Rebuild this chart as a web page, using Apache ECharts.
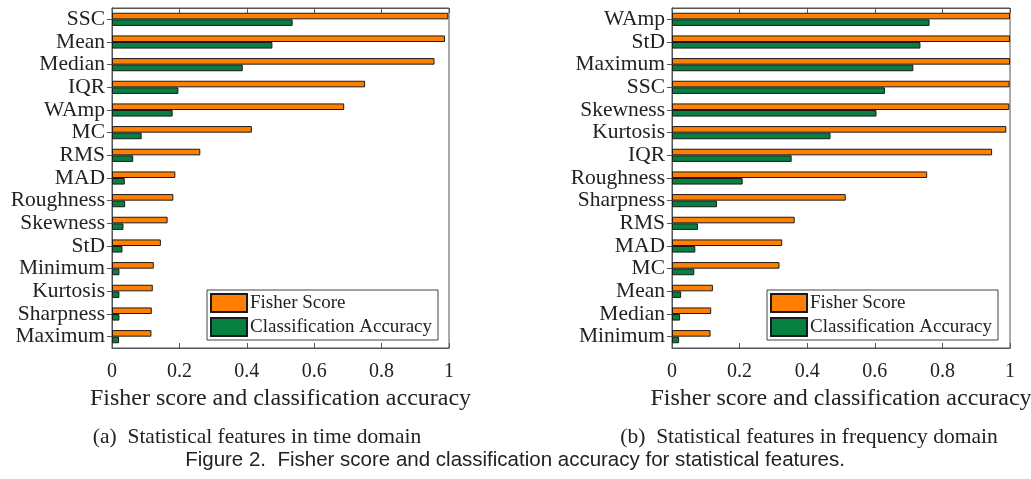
<!DOCTYPE html>
<html>
<head>
<meta charset="utf-8">
<script src="https://cdn.jsdelivr.net/npm/echarts@6/dist/echarts.min.js"></script>
<style>
  html, body { margin: 0; padding: 0; background: #fff; }
  #chart { width: 1031px; height: 479px; }
</style>
</head>
<body>
<div id="chart"></div>
<script>
// Time-domain features, ranked by Fisher score
const timeFeatures = ['SSC', 'Mean', 'Median', 'IQR', 'WAmp', 'MC', 'RMS', 'MAD', 'Roughness', 'Skewness', 'StD', 'Minimum', 'Kurtosis', 'Sharpness', 'Maximum'];
const timeFisher = [0.998, 0.988, 0.957, 0.751, 0.689, 0.415, 0.262, 0.188, 0.182, 0.165, 0.145, 0.124, 0.121, 0.118, 0.117];
const timeAccuracy = [0.536, 0.476, 0.388, 0.197, 0.180, 0.088, 0.063, 0.038, 0.039, 0.034, 0.031, 0.022, 0.022, 0.022, 0.021];

// Frequency-domain features, ranked by Fisher score
const freqFeatures = ['WAmp', 'StD', 'Maximum', 'SSC', 'Skewness', 'Kurtosis', 'IQR', 'Roughness', 'Sharpness', 'RMS', 'MAD', 'MC', 'Mean', 'Median', 'Minimum'];
const freqFisher = [1.0, 1.0, 1.0, 0.999, 0.998, 0.989, 0.947, 0.755, 0.514, 0.363, 0.326, 0.318, 0.121, 0.116, 0.114];
const freqAccuracy = [0.762, 0.735, 0.714, 0.630, 0.605, 0.469, 0.354, 0.209, 0.133, 0.077, 0.069, 0.066, 0.027, 0.024, 0.021];

const xTicks = [0, 0.2, 0.4, 0.6, 0.8, 1];
const seriesNames = ['Fisher Score', 'Classification Accuracy'];
const axisTitle = 'Fisher score and classification accuracy';
const subCaptions = ['(a)  Statistical features in time domain', '(b)  Statistical features in frequency domain'];
const figureCaption = 'Figure 2.  Fisher score and classification accuracy for statistical features.';

const ORANGE = '#ff8000';
const GREEN = '#067f40';
const INK = '#222';
const SERIF = "'Liberation Serif', 'Times New Roman', serif";
const SANS = "'Liberation Sans', 'DejaVu Sans', sans-serif";

const panels = [
  { cats: timeFeatures, fisher: timeFisher, acc: timeAccuracy, left: 112, width: 337 },
  { cats: freqFeatures, fisher: freqFisher, acc: freqAccuracy, left: 672, width: 338 }
];

const grid = [], xAxis = [], yAxis = [], series = [], legend = [], title = [];

panels.forEach((p, i) => {
  grid.push({ left: p.left, top: 8, width: p.width, height: 340, show: true,
              outerBoundsMode: 'none', containLabel: false,
              borderColor: '#555', borderWidth: 1, backgroundColor: 'transparent' });
  // bottom value axis with labels
  xAxis.push({
    type: 'value', gridIndex: i, min: 0, max: 1, interval: 0.2, position: 'bottom',
    axisLine: { show: true, lineStyle: { color: '#555' } },
    axisTick: { show: true, inside: true, length: 5, lineStyle: { color: '#555' } },
    splitLine: { show: false },
    axisLabel: { color: INK, fontFamily: SERIF, fontSize: 20, margin: 14,
                 formatter: v => xTicks.includes(+v.toFixed(1)) ? String(+v.toFixed(1)) : '' },
    name: axisTitle, nameLocation: 'middle', nameGap: 38,
    nameTextStyle: { color: INK, fontFamily: SERIF, fontSize: 24 }
  });
  // top mirror axis: ticks only
  xAxis.push({
    type: 'value', gridIndex: i, min: 0, max: 1, interval: 0.2, position: 'top',
    axisLine: { show: true, lineStyle: { color: '#555' } },
    axisTick: { show: true, inside: true, length: 5, lineStyle: { color: '#555' } },
    splitLine: { show: false }, axisLabel: { show: false }
  });
  // left category axis with feature names
  yAxis.push({
    type: 'category', gridIndex: i, data: p.cats, inverse: true, position: 'left',
    axisLine: { show: true, lineStyle: { color: '#555' } },
    axisTick: { show: false },
    axisLabel: { color: INK, fontFamily: SERIF, fontSize: 21.5, margin: 7, interval: 0 }
  });
  // right mirror axis: ticks only
  yAxis.push({
    type: 'category', gridIndex: i, data: p.cats, inverse: true, position: 'right',
    axisLine: { show: true, lineStyle: { color: '#555' } },
    axisTick: { show: true, inside: true, length: 5, alignWithLabel: true, interval: 0,
                lineStyle: { color: '#555' } },
    axisLabel: { show: false }
  });

  const barStyle = c => ({ color: c, borderColor: '#1a1a1a', borderWidth: 1 });
  series.push({
    type: 'bar', name: seriesNames[0], xAxisIndex: 2 * i, yAxisIndex: 2 * i,
    data: p.fisher, itemStyle: barStyle(ORANGE), barGap: '0%', barCategoryGap: '42%',
    emphasis: { disabled: true }
  });
  series.push({
    type: 'bar', name: seriesNames[1], xAxisIndex: 2 * i, yAxisIndex: 2 * i,
    data: p.acc, itemStyle: barStyle(GREEN), barGap: '0%', barCategoryGap: '42%',
    emphasis: { disabled: true }
  });

  legend.push({
    data: seriesNames, orient: 'vertical',
    left: i === 0 ? 207 : 767, top: 290,
    backgroundColor: '#fff', borderColor: '#444', borderWidth: 1,
    padding: [3, 6, 3, 3], itemGap: 4, itemWidth: 36, itemHeight: 18,
    icon: 'rect', selectedMode: false,
    textStyle: { color: INK, fontFamily: SERIF, fontSize: 19, padding: [0, 0, 0, -2] }
  });
});

title.push({ text: subCaptions[0], left: 252, top: 421, textAlign: 'center',
             textStyle: { color: INK, fontFamily: SERIF, fontSize: 21.5, fontWeight: 'normal' } });
title.push({ text: subCaptions[1], left: 804, top: 421, textAlign: 'center',
             textStyle: { color: INK, fontFamily: SERIF, fontSize: 21.5, fontWeight: 'normal' } });
title.push({ text: figureCaption, left: 510, top: 445, textAlign: 'center',
             textStyle: { color: INK, fontFamily: SANS, fontSize: 20.5, fontWeight: 'normal' } });

const chart = echarts.init(document.getElementById('chart'), null, { renderer: 'canvas' });
chart.setOption({
  animation: false,
  backgroundColor: '#fff',
  grid, xAxis, yAxis, series, legend, title
});
</script>
</body>
</html>
